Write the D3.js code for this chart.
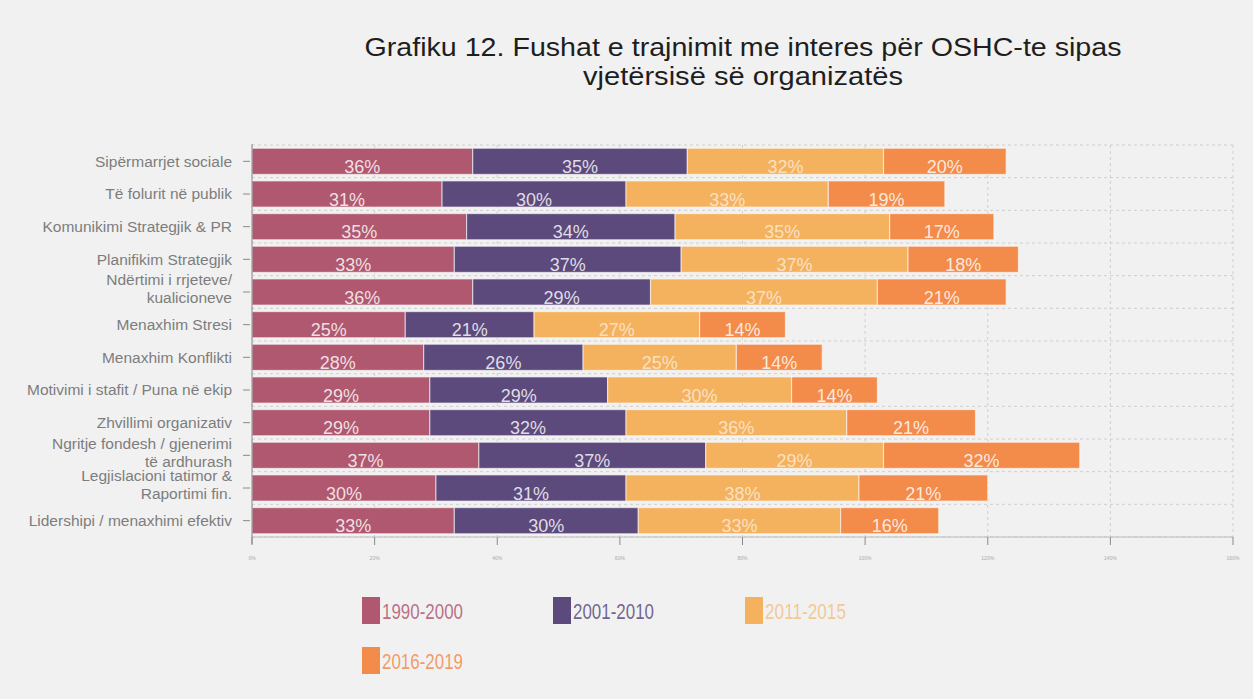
<!DOCTYPE html>
<html><head><meta charset="utf-8">
<script src="https://cdn.jsdelivr.net/npm/d3@7"></script>
<style>
html,body{margin:0;padding:0;background:#f1f1f1;}
svg{display:block;}
</style></head>
<body>
<svg id="c" width="1253" height="699"></svg>
<script>
const categories = [
  "Sipërmarrjet sociale",
  "Të folurit në publik",
  "Komunikimi Strategjik & PR",
  "Planifikim Strategjik",
  "Ndërtimi i rrjeteve/\nkualicioneve",
  "Menaxhim Stresi",
  "Menaxhim Konflikti",
  "Motivimi i stafit / Puna në ekip",
  "Zhvillimi organizativ",
  "Ngritje fondesh / gjenerimi\ntë ardhurash",
  "Legjislacioni tatimor &\nRaportimi fin.",
  "Lidershipi / menaxhimi efektiv"
];
const seriesNames = ["1990-2000", "2001-2010", "2011-2015", "2016-2019"];
const s1990 = [36, 31, 35, 33, 36, 25, 28, 29, 29, 37, 30, 33];
const s2001 = [35, 30, 34, 37, 29, 21, 26, 29, 32, 37, 31, 30];
const s2011 = [32, 33, 35, 37, 37, 27, 25, 30, 36, 29, 38, 33];
const s2016 = [20, 19, 17, 18, 21, 14, 14, 14, 21, 32, 21, 16];
const xTicks = [0, 20, 40, 60, 80, 100, 120, 140, 160];
const colors = ["#b0586f", "#5c4a7d", "#f4b25f", "#f38b4b"];
const titleLines = ["Grafiku 12. Fushat e trajnimit me interes për OSHC-te sipas", "vjetërsisë së organizatës"];

const seriesValues = [s1990, s2001, s2011, s2016];
const rows = categories.map((c, i) => {
  const o = {cat: c};
  seriesNames.forEach((s, k) => o[s] = seriesValues[k][i]);
  return o;
});
const stacked = d3.stack().keys(seriesNames)(rows);

const svg = d3.select("#c");
const L = 252, R = 1233, T = 145, B = 537;

const x = d3.scaleLinear().domain([0, 160]).range([L, R]);
const y = d3.scaleBand().domain(categories).range([T, B]).paddingInner(0.2).paddingOuter(0.1);
const step = y.step();

// title
svg.append("g").selectAll("text").data(titleLines).join("text")
  .attr("x", 743).attr("y", (d, i) => 56 + i * 29)
  .attr("text-anchor", "middle")
  .attr("font-family", "'Liberation Sans Narrow', 'Arial Narrow', sans-serif")
  .attr("font-size", 25)
  .attr("fill", "#1e1e1e")
  .attr("textLength", (d, i) => i === 0 ? 757 : 320)
  .attr("lengthAdjust", "spacingAndGlyphs")
  .text(d => d);

// gridlines
const grid = svg.append("g");
grid.selectAll("line.v").data(xTicks).join("line")
  .attr("x1", d => x(d)).attr("x2", d => x(d))
  .attr("y1", T).attr("y2", B)
  .attr("stroke", "#cfcfcf").attr("stroke-dasharray", "3,3");
const hLines = categories.map(c => y(c) - step * 0.1).concat([B]);
grid.selectAll("line.h").data(hLines).join("line")
  .attr("x1", L).attr("x2", R)
  .attr("y1", d => d).attr("y2", d => d)
  .attr("stroke", "#cfcfcf").attr("stroke-dasharray", "3,3");

// bars
const layers = svg.append("g").selectAll("g").data(stacked).join("g")
  .attr("fill", (d, i) => colors[i]);
layers.selectAll("rect").data(d => d).join("rect")
  .attr("x", d => x(d[0]))
  .attr("width", d => x(d[1]) - x(d[0]))
  .attr("y", d => y(d.data.cat))
  .attr("height", y.bandwidth())
  .attr("stroke", "rgba(255,255,255,0.55)")
  .attr("stroke-width", 1.2);

// bar labels
const lab = svg.append("g");
stacked.forEach((layer, k) => {
  lab.selectAll("text.s" + k).data(layer).join("text")
    .attr("x", d => (x(d[0]) + x(d[1])) / 2)
    .attr("y", d => y(d.data.cat) + y.bandwidth() - 1.5)
    .attr("text-anchor", "middle")
    .attr("font-family", "'Liberation Sans', Arial, sans-serif")
    .attr("font-size", 18)
    .attr("fill", k === 2 ? "rgba(255,255,255,0.62)" : "rgba(255,255,255,0.82)")
    .text(d => (d[1] - d[0]) + "%");
});

// left axis
const ya = svg.append("g");
ya.append("line").attr("x1", L).attr("x2", L).attr("y1", T - 1).attr("y2", B + 7)
  .attr("stroke", "#8a8a8a").attr("stroke-width", 1);
categories.forEach(c => {
  const cy = y(c) + y.bandwidth() / 2;
  ya.append("line").attr("x1", L - 9).attr("x2", L - 2).attr("y1", cy).attr("y2", cy)
    .attr("stroke", "#8a8a8a");
  const lines = c.split("\n");
  const t = ya.append("text")
    .attr("text-anchor", "end")
    .attr("font-family", "'Liberation Sans', Arial, sans-serif")
    .attr("font-size", 15.5)
    .attr("fill", "#7d7d7d");
  if (lines.length === 1) {
    t.append("tspan").attr("x", L - 20).attr("y", cy).attr("dy", "0.35em").text(lines[0]);
  } else {
    lines.forEach((ln, j) => {
      t.append("tspan").attr("x", L - 20).attr("y", cy + (j === 0 ? -12 : 6)).attr("dy", "0.35em").text(ln);
    });
  }
});

// bottom axis
const xa = svg.append("g");
xa.append("line").attr("x1", L).attr("x2", R).attr("y1", B).attr("y2", B)
  .attr("stroke", "#bdbdbd");
xa.selectAll("line.t").data(xTicks).join("line")
  .attr("x1", d => x(d)).attr("x2", d => x(d))
  .attr("y1", B).attr("y2", B + 8)
  .attr("stroke", "#8a8a8a");
xa.selectAll("text").data(xTicks).join("text")
  .attr("x", d => x(d)).attr("y", 560)
  .attr("text-anchor", "middle")
  .attr("font-family", "'Liberation Sans', Arial, sans-serif")
  .attr("font-size", 5)
  .attr("fill", "#aaaaaa")
  .text(d => d + "%");

// legend
const legendPos = [[362, 597], [553, 597], [745, 597], [362, 647]];
const lg = svg.append("g").selectAll("g").data(seriesNames).join("g")
  .attr("transform", (d, i) => `translate(${legendPos[i][0]},${legendPos[i][1]})`);
lg.append("rect").attr("width", 18).attr("height", 27)
  .attr("fill", (d, i) => colors[i]);
lg.append("text").attr("x", 20).attr("y", 22)
  .attr("font-family", "'Liberation Sans Narrow', 'Arial Narrow', sans-serif")
  .attr("font-size", 22)
  .attr("fill", (d, i) => colors[i])
  .attr("fill-opacity", (d, i) => i === 2 ? 0.65 : 0.85)
  .attr("textLength", 81)
  .attr("lengthAdjust", "spacingAndGlyphs")
  .text(d => d);
</script>
</body></html>
